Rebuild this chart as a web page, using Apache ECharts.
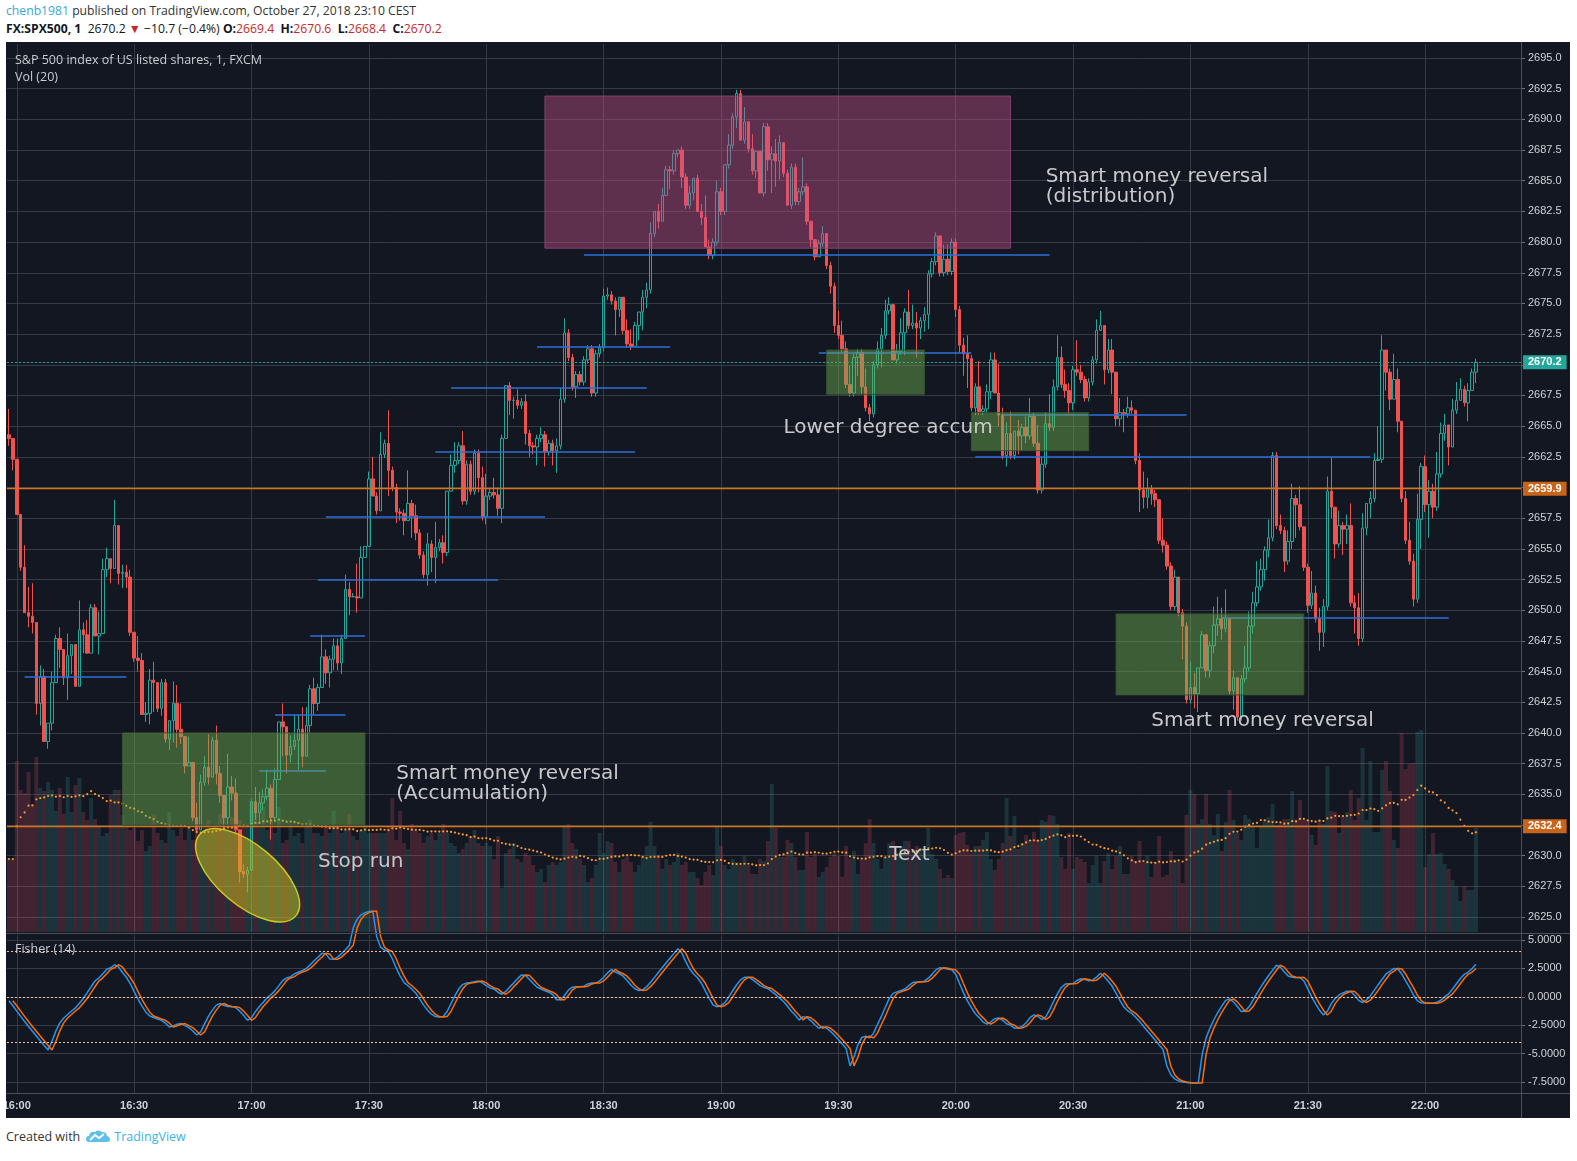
<!DOCTYPE html>
<html>
<head>
<meta charset="utf-8">
<script src="https://cdn.jsdelivr.net/npm/echarts@6/dist/echarts.min.js"></script>
<style>
html,body{margin:0;padding:0;background:#fff;width:1577px;height:1161px;overflow:hidden;font-family:"Open Sans","Noto Sans",sans-serif;}
#h1{position:absolute;left:6px;top:2px;font-size:12.2px;line-height:18px;color:#333;white-space:nowrap;}
#h2{position:absolute;left:6px;top:20px;font-size:12.2px;line-height:18px;color:#131722;white-space:nowrap;}
#h2 .r{color:#c62828;}
#chart{position:absolute;left:6px;top:42px;width:1564px;height:1076px;background:#131722;}
#ft{position:absolute;left:6px;top:1128px;font-size:12.5px;line-height:18px;color:#333;white-space:nowrap;}
#ft svg{vertical-align:-2px;margin:0 4px 0 6px;}
</style>
</head>
<body>
<div id="h1"><span style="color:#3aa6dc">chenb1981</span> published on TradingView.com, October 27, 2018 23:10 CEST</div>
<div id="h2"><b>FX:SPX500, 1</b>&nbsp; 2670.2 <span class="r">&#9660;</span> &minus;10.7 (&minus;0.4%) <b>O:</b><span class="r">2669.4</span> &nbsp;<b>H:</b><span class="r">2670.6</span> &nbsp;<b>L:</b><span class="r">2668.4</span> &nbsp;<b>C:</b><span class="r">2670.2</span></div>
<div id="chart"></div>
<div id="ft">Created with<svg width="24" height="14" viewBox="0 0 24 14"><path d="M3 13 Q0 13 0 10 Q0 7 3 7 Q4 2 9 3 Q12 0 16 3 Q21 3 21 7 Q24 8 24 10.5 Q24 13 21 13 Z" fill="#5ec0ea"/><polyline points="4,11 9,6 13,9 18,5" stroke="#fff" stroke-width="1.8" fill="none"/></svg><span style="color:#3bb3e4">TradingView</span></div>
<script>
// ---------------- DATA ----------------
const START_TIME = '15:58';           // first candle
const N_CATS = 387;                   // minutes shown on the time axis (incl. empty right margin)
const timeTicks = ['16:00','16:30','17:00','17:30','18:00','18:30','19:00','19:30','20:00','20:30','21:00','21:30','22:00'];
const firstOpen = 2664.3;
const WICK_UNIT = 0.3;                // wick lengths below are in units of 0.3 points

const closes = [
2664.0,2662.3,2657.8,2653.5,2649.8,2649.5,2649.0,2642.4,2644.6,2639.3,
2640.8,2644.1,2647.7,2646.8,2644.5,2646.3,2647.2,2643.8,2648.4,2648.0,
2646.5,2650.2,2647.9,2648.1,2653.3,2654.2,2653.4,2656.9,2653.0,2653.1,
2652.7,2648.2,2646.1,2645.9,2641.5,2641.6,2644.3,2644.1,2642.0,2644.1,
2639.5,2641.0,2642.4,2640.3,2639.7,
2637.3,2637.6,2633.1,2632.1,2636.0,2637.2,2636.4,2639.4,2636.7,2634.9,
2633.1,2635.6,2635.1,2632.1,2628.7,2628.5,2628.8,2634.4,2633.5,2634.3,
2634.8,2635.5,2633.1,2636.2,
2640.9,2640.5,2638.2,2638.9,2639.4,2640.3,2638.1,2640.6,2643.6,2642.4,
2643.7,2646.2,2644.9,2646.0,2647.1,2645.7,2647.7,2651.7,2651.1,2651.1,
2651.0,2654.3,2655.2,2660.7,2659.3,2658.1,2662.7,2663.6,2661.4,2660.0,
2658.0,2657.9,2657.3,2658.7,2657.7,2656.3,2654.5,2652.9,2655.4,2654.3,
2655.1,2655.5,2654.7,2659.7,2661.8,2662.2,2663.4,2658.9,2661.9,2659.7,
2662.8,2660.8,2657.6,2659.3,2659.6,2659.4,2658.3,2664.0,2668.3,2667.1,
2667.1,2666.7,2667.0,2664.4,2663.4,2663.3,2664.0,2664.3,2662.9,2663.6,
2663.0,2663.4,2667.2,2672.6,2670.6,2668.2,2669.2,2668.6,2670.4,2671.3,
2667.7,2670.9,2671.4,2675.6,2675.7,2675.2,
2674.5,2675.5,2672.8,2671.7,2671.5,2673.2,2674.3,2675.5,2676.1,2680.7,
2682.5,2681.7,2683.8,2685.9,2685.8,2687.2,2687.5,2685.3,2683.0,2684.0,
2685.2,2682.5,2682.0,2679.6,2678.9,2680.0,2684.1,2682.5,2686.3,2687.9,
2690.2,2692.1,2688.3,2689.8,2687.6,2685.8,2687.4,2684.0,2689.4,2686.7,
2687.2,2686.6,2688.1,2685.6,2683.0,2686.1,2683.3,2684.1,2684.5,2681.7,
2680.2,2678.8,2679.9,2680.7,2678.1,2676.4,2673.2,2672.4,2671.3,2668.4,
2667.7,2670.6,2671.0,2668.2,2666.5,2666.0,2670.0,2671.3,2672.4,2674.4,
2674.9,2670.4,2671.1,2672.6,2674.3,2673.2,2673.4,2673.0,2673.6,2674.1,
2677.4,2678.4,2680.5,2677.5,2678.6,2677.6,2680.0,2674.5,2671.6,2670.9,
2670.5,
2666.5,2668.2,2666.2,2666.4,2667.8,2670.4,2667.7,2665.9,2662.6,2664.4,
2662.6,2664.6,2664.2,2664.9,2664.2,2665.8,2663.6,2659.8,2661.9,2665.2,
2664.9,2668.2,2670.6,2668.4,2667.9,2666.9,2669.6,2669.4,2668.8,2667.3,
2668.6,2670.4,2672.8,2673.2,2669.6,2671.2,2669.4,2665.6,2666.1,2666.0,
2666.5,2666.3,2662.2,2659.8,2659.2,2659.9,2659.5,2659.0,2655.7,2655.3,
2653.6,
2650.3,2652.7,2649.8,2648.7,2642.7,2643.7,2643.2,2645.3,2648.0,2645.1,
2647.1,2648.8,2649.3,2648.5,2649.3,2643.4,2644.5,2641.3,2644.4,2645.3,
2648.7,2650.6,2651.9,2653.3,2654.9,2655.9,2662.6,2656.9,2656.5,2654.0,
2655.6,2659.1,2658.6,2656.8,2653.5,2650.4,2651.4,2649.3,2648.2,2650.3,
2659.7,2658.4,2655.4,2656.9,2656.6,2656.9,2650.6,2650.2,2647.7,2656.7,
2658.7,2659.1,2662.2,2662.3,2671.2,2669.4,2667.2,2668.8,2665.4,2659.1,
2655.7,2654.0,2650.9,2657.4,2661.7,2658.6,2659.7,2658.4,2661.1,2664.4,
2665.1,2663.3,2666.3,2667.1,2668.0,2666.9,2667.9,2669.4,2670.2
];

const upperWicks = [
7,0,0,0,6,7,9,0,3,2, 0,3,1,3,0,6,0,0,8,2, 4,1,1,6,3,3,0,7,0,2, 2,2,0,6,2,3,3,5,0,1, 1,0,6,5,7,
0,7,0,4,2,3,9,1,4,2, 0,9,3,4,0,2,1,0,4,3, 2,5,1,3,
0,5,0,3,7,4,6,5,1,3, 1,6,2,1,2,2,1,4,2,1, 9,3,0,2,6,1,6,1,9,1, 1,1,1,9,1,3,1,1,3,1,
7,1,2,0,3,5,1,4,1,1, 1,1,3,6,1,4,2,1,0,1, 1,3,1,2,1,1,1,2,1,1, 1,2,3,4,1,1,1,1,1,1, 1,1,1,2,2,1,
1,0,0,3,4,1,0,2,2,3, 0,2,2,1,1,1,0,1,1,2, 0,1,2,6,2,1,3,1,0,3, 1,1,1,4,0,4,0,0,1,1,
2,4,2,0,1,1,1,1,8,1, 0,0,1,2,0,1,1,4,4,2, 5,1,1,1,5,1,1,2,2,3, 2,0,2,4,1,6,5,3,1,2, 1,1,1,0,4,4,1,1,1,2, 5,
1,1,7,1,2,2,2,8,2,3, 6,0,3,1,3,5,1,5,2,3, 8,2,6,3,4,2,1,8,2,1, 1,1,3,4,0,3,3,0,4,1, 3,2,0,2,5,3,1,1,0,6, 1,
1,2,0,1,1,7,4,0,1,0, 1,5,6,3,8,0,2,0,1,6, 4,3,7,3,1,5,1,1,3,1, 3,4,1,5,0,1,6,2,3,2,
4,9,0,4,1,3,6,2,4,4, 0,2,2,9,4,0,1,7,3,0, 2,5,2,7,1,3,3,2,6,3, 3,0,3,5,3,1,2,1,1
];

const lowerWicks = [
2,3,0,1,0,3,3,3,6,0, 2,2,0,5,2,6,5,0,0,5, 0,0,0,5,0,2,4,0,3,4, 3,1,1,3,0,2,3,8,1,2, 1,3,6,5,2,
2,0,1,1,0,1,2,0,3,2, 3,2,2,1,3,1,5,0,2,3, 2,1,6,1,
0,8,5,2,1,8,3,0,2,3, 2,0,3,4,3,2,3,0,5,0, 4,0,0,0,0,1,0,1,7,1, 3,2,4,0,6,2,1,1,3,4,
7,1,3,1,0,2,1,1,1,1, 1,4,1,2,1,1,2,4,0,4, 5,1,1,3,3,2,5,1,4,1, 4,6,1,1,1,1,3,1,1,1, 1,1,1,1,1,1,
7,2,1,1,1,0,4,5,3,1, 1,2,0,0,5,1,1,3,1,1, 2,0,2,0,1,1,1,1,1,1, 1,3,0,1,1,1,2,0,1,3,
9,7,5,1,0,1,1,1,1,1, 2,1,0,1,1,2,2,1,1,1, 1,1,5,2,1,2,1,1,5,1, 1,0,1,1,6,1,1,8,3,3, 4,1,1,1,1,1,1,2,2,6, 8,
1,2,1,1,1,2,0,3,1,3, 1,1,5,4,2,1,1,1,1,1, 1,1,1,1,2,3,2,1,1,1, 1,1,1,0,4,1,6,2,2,5, 1,1,1,6,3,3,3,2,1,2, 1,
1,1,1,9,1,1,4,5,0,2, 2,2,3,3,1,1,5,1,1,1, 1,2,1,1,3,2,1,1,1,3, 1,2,9,1,1,2,1,1,5,4,
1,3,4,1,7,4,1,7,2,1, 2,4,1,0,1,5,3,0,3,1, 1,1,2,1,8,2,9,3,1,1, 2,5,0,1,0,1,5,0,3
];

const volumes = [
73,73,171,142,139,160,128,175,144,141, 150,142,121,144,118,155,120,147,154,120,
112,134,113,105,96,99,137,142,142,117, 105,102,104,91,102,81,86,118,99,92,
89,120,102,96,104,92,105,92,105,105, 108,112,105,108,118,115,105,115,115,112,
105,105,134,121,105,125,102,112,99,125, 89,92,108,96,99,89,105,112,99,99,
96,105,99,121,105,99,102,118,96,92, 102,105,99,99,99,99,99,105,134,92,
121,89,83,108,102,99,89,96,99,92, 99,108,99,89,86,79,83,89,96,102,
89,86,89,86,73,96,44,79,83,89, 73,70,79,76,67,60,63,50,67,70,
67,70,105,108,89,83,73,67,50,54, 67,99,79,91,89,70,60,73,76,70,
60,67,76,86,110,86,76,63,73,67, 70,79,67,70,60,60,54,47,60,67,
57,105,86,67,63,73,70,67,76,
67,58,58,73,71,91,148,104,75, 75,92,89,75,62,62,100,75,79,55,
60,65,75,79,76,55,86,73,81,58, 73,89,113,89,73,63,75,89,91,79,
86,91,91,79,86,84,79,104,78,73, 63,54,57,54,97,99,100,87,79,86,
86,92,100,73,62,73,89,134,96,116, 83,89,97,92,100,92,112,110,117,
116,108,75,63,99,63,75,73,70,49, 67,76,49,71,79,63,76,86,58,58,
76,71,91,70,76,55,70,96,55,57, 81,73,70,49,117,142,138,108,113,138,
108,97,118,81,110,142,112,99,92, 117,113,105,84,105,113,115,128,107,108,
113,113,141,113,132,112,112,97,87,112, 108,166,121,120,99,115,120,142,112,134,
184,112,171,100,100,162,171,141,92,84, 199,163,168,169,200,202,65,78,99,78,
79,68,63,52,46,31,46,42,42,104
];

// user drawings: [fromCandle, toCandle, price]
const levelLines = [
[4,30,2644.6],[64,81,2636.9],[68,86,2641.5],[77,91,2647.9],[79,125,2652.5],[81,137,2657.6],
[109,160,2662.9],[113,163,2668.1],[135,169,2671.5],[147,266,2679.0],[207,246,2671.0],
[254,301,2665.9],[247,348,2662.5],[310,368,2649.4]
];
// [fromCandle, toCandle, topPrice, bottomPrice, kind]
const boxes = [
[137,256,2691.9,2679.5,'pink'],[29,91,2640.0,2632.5,'green'],[209,234,2671.2,2667.6,'green'],
[246,276,2666.1,2663.0,'green'],[283,331,2649.7,2643.1,'green']
];
const priceLines = [[2670.2,'last'],[2659.9,'h'],[2632.4,'h']];
// [candle, price at top of text block, text]
const notes = [
[265,2686.1,'Smart money reversal\n(distribution)'],
[198,2665.7,'Lower degree accum'],
[292,2641.8,'Smart money reversal'],
[99,2637.5,'Smart money reversal\n(Accumulation)'],
[79,2630.3,'Stop run'],
[225,2630.9,'Text']
];
const stopRunEllipse = {candle:61, price:2628.4};
const fisherLevels = [4,0,-4];

// ---------------- BUILD ----------------
const n = closes.length;
if (upperWicks.length!==n || lowerWicks.length!==n || volumes.length!==n) console.error('length mismatch', n, upperWicks.length, lowerWicks.length, volumes.length);
const [sh, sm] = START_TIME.split(':').map(Number);
const cats = [];
for (let i=0;i<N_CATS;i++){const m=sh*60+sm+i;cats.push(String(Math.floor(m/60)).padStart(2,'0')+':'+String(m%60).padStart(2,'0'));}

const opens=[], highs=[], lows=[];
for (let i=0;i<n;i++){
  const o = i===0?firstOpen:closes[i-1], c=closes[i];
  opens.push(o);
  highs.push(+(Math.max(o,c)+upperWicks[i]*WICK_UNIT).toFixed(2));
  lows.push(+(Math.min(o,c)-lowerWicks[i]*WICK_UNIT).toFixed(2));
}
const candleData = closes.map((c,i)=>[opens[i],c,lows[i],highs[i]]);

// Fisher transform (14) on hl2
const hl2 = highs.map((h,i)=>(h+lows[i])/2);
const fisher=[], trigger=[];
let val=0, fish=0;
for (let i=0;i<n;i++){
  const s=Math.max(0,i-13); let hi=-Infinity, lo=Infinity;
  for (let k=s;k<=i;k++){hi=Math.max(hi,hl2[k]);lo=Math.min(lo,hl2[k]);}
  let v = 0.66*((hl2[i]-lo)/Math.max(hi-lo,0.001)-0.5)+0.67*val;
  v = v>0.99?0.999:(v<-0.99?-0.999:v);
  val=v;
  trigger.push(i===0?null:+fish.toFixed(4));
  fish = 0.5*Math.log((1+v)/(1-v))+0.5*fish;
  fisher.push(+fish.toFixed(4));
}
// Volume MA(20)
const volMA = volumes.map((v,i)=>{const s=Math.max(0,i-19);let t=0;for(let k=s;k<=i;k++)t+=volumes[k];return +(t/(i-s+1)).toFixed(2);});

const GRID='#363a45', AX='#cfd2d8', FONT='"Liberation Sans", Arial, sans-serif';
const tickFn=(i,v)=>timeTicks.indexOf(v)>=0;
function xa(g, extra){
  return Object.assign({type:'category',gridIndex:g,data:cats,boundaryGap:true,
    axisLine:{show:false},axisTick:{show:false},axisLabel:{show:false},splitLine:{show:false}}, extra||{});
}
const vSplit={show:true,interval:tickFn,alignWithLabel:true,lineStyle:{color:GRID,width:1}};
const gridBase={left:1,right:49,containLabel:false,outerBoundsMode:'none'};

const option={
  backgroundColor:'transparent',
  animation:false,
  grid:[
    Object.assign({top:16,height:859},gridBase),
    Object.assign({top:2,height:888},gridBase),
    Object.assign({top:898,height:142},gridBase),
    Object.assign({top:893,height:158},gridBase)
  ],
  xAxis:[
    xa(0),
    xa(1,{splitLine:vSplit}),
    xa(2),
    xa(3,{splitLine:vSplit,axisLine:{show:true,lineStyle:{color:'#4c4f5a'}},
      axisLabel:{show:true,interval:tickFn,color:AX,fontSize:11,fontWeight:'bold',fontFamily:FONT,margin:7}})
  ],
  yAxis:[
    {type:'value',gridIndex:0,position:'right',min:2625,max:2695,interval:2.5,scale:true,
     axisLine:{show:false},axisTick:{show:true,length:4,lineStyle:{color:'#6b6e78'}},
     axisLabel:{color:AX,fontSize:11,fontFamily:FONT,margin:7,formatter:v=>v.toFixed(1)},
     splitLine:{show:true,lineStyle:{color:GRID}}},
    {type:'value',gridIndex:1,min:0,max:888,show:false},
    {type:'value',gridIndex:2,position:'right',min:-7.5,max:5,interval:2.5,
     axisLine:{show:false},axisTick:{show:true,length:4,lineStyle:{color:'#6b6e78'}},
     axisLabel:{color:AX,fontSize:11,fontFamily:FONT,margin:7,formatter:v=>v.toFixed(4)},
     splitLine:{show:true,lineStyle:{color:GRID}}},
    {type:'value',gridIndex:3,show:false}
  ],
  series:[
    {type:'bar',name:'Volume',xAxisIndex:1,yAxisIndex:1,z:1,barCategoryGap:'0%',
     data:volumes.map((v,i)=>({value:v,itemStyle:{color: closes[i]>=opens[i]?'rgba(60,170,160,0.2)':'rgba(230,80,110,0.22)'}})),
     silent:true},
    {type:'line',name:'VolMA',xAxisIndex:1,yAxisIndex:1,z:3,data:volMA,symbol:'circle',symbolSize:2.2,
     showSymbol:true,lineStyle:{opacity:0},itemStyle:{color:'#ff9a2e'},silent:true},
    {type:'candlestick',name:'SPX500',xAxisIndex:0,yAxisIndex:0,z:2,barWidth:3,data:candleData,
     itemStyle:{color:'rgba(0,0,0,0)',color0:'#ef5350',borderColor:'#26a69a',borderColor0:'#ef5350',borderColorDoji:'#26a69a',borderWidth:1},
     silent:true},
    {type:'line',name:'levels',xAxisIndex:0,yAxisIndex:0,data:[],silent:true,
     markLine:{silent:true,symbol:['none','none'],z:5,animation:false,
       data: levelLines.map(l=>[{coord:[cats[l[0]],l[2]],lineStyle:{color:'#2e6fdc',width:1.5,type:'solid'},label:{show:false}},{coord:[cats[l[1]],l[2]]}])
         .concat(priceLines.map(p=>({yAxis:p[0],
           lineStyle: p[1]==='last'?{color:'#26a69a',width:1,type:[2,2]}:{color:'#d8731a',width:1.3,type:'solid'},
           label:{show:true,position:'end',distance:2,formatter:p[0].toFixed(1),color:'#fff',fontSize:11,fontWeight:'bold',fontFamily:FONT,
             backgroundColor:p[1]==='last'?'#26a69a':'#c8651b',padding:[2,5,1,5]}})))
     }},
    {type:'line',name:'zones',xAxisIndex:0,yAxisIndex:0,data:[],silent:true,
     markArea:{silent:true,z:10,
       data: boxes.map(b=>[{xAxis:cats[b[0]],yAxis:b[2],itemStyle: b[4]==='pink'
           ?{color:'rgba(200,80,140,0.42)',borderColor:'rgba(140,70,115,0.9)',borderWidth:1}
           :{color:'rgba(110,180,80,0.45)',borderColor:'rgba(55,85,50,0.95)',borderWidth:1}},
         {xAxis:cats[b[1]],yAxis:b[3]}])
     }},
    {type:'line',name:'Fisher',xAxisIndex:2,yAxisIndex:2,z:3,data:fisher,symbol:'none',
     lineStyle:{color:'#2196f3',width:1.5},silent:true,clip:false,
     markLine:{silent:true,symbol:['none','none'],label:{show:false},
       lineStyle:{color:'#f7c2a3',type:[2,2],width:1},data:fisherLevels.map(v=>({yAxis:v}))}},
    {type:'line',name:'Trigger',xAxisIndex:2,yAxisIndex:2,z:4,data:trigger,symbol:'none',
     lineStyle:{color:'#ff6d00',width:1.5},silent:true,clip:false}
  ]
};

const chart=echarts.init(document.getElementById('chart'),null,{renderer:'canvas'});
chart.setOption(option);

// annotations placed through the chart's own scales
const px=(c,p)=>chart.convertToPixel({gridIndex:0},[cats[c],p]);
const g=[];
g.push({type:'line',z:20,silent:true,shape:{x1:1515.5,y1:0,x2:1515.5,y2:1076},style:{stroke:'#4c4f5a',lineWidth:1}});
g.push({type:'line',z:20,silent:true,shape:{x1:0,y1:891.5,x2:1564,y2:891.5},style:{stroke:'#4c4f5a',lineWidth:1}});
g.push({type:'line',z:20,silent:true,shape:{x1:1515,y1:1051.5,x2:1564,y2:1051.5},style:{stroke:'#4c4f5a',lineWidth:1}});
const ec=px(stopRunEllipse.candle,stopRunEllipse.price);
g.push({type:'ellipse',z:11,silent:true,x:ec[0],y:ec[1],rotation:-0.70,shape:{cx:0,cy:0,rx:63,ry:30},
  style:{fill:'rgba(200,190,30,0.52)',stroke:'rgba(215,205,35,0.95)',lineWidth:1.5}});
notes.forEach(nt=>{const p=px(nt[0],nt[1]);
  g.push({type:'text',z:12,silent:true,x:p[0],y:p[1],style:{text:nt[2],fill:'#c8c9cc',font:'20px "DejaVu Sans"',align:'left',verticalAlign:'top',lineHeight:20}});
});
g.push({type:'text',z:12,silent:true,x:9,y:12,style:{text:'S&P 500 index of US listed shares, 1, FXCM',fill:'#c9ccd3',font:'12.5px "Open Sans"',verticalAlign:'top'}});
g.push({type:'text',z:12,silent:true,x:9,y:29,style:{text:'Vol (20)',fill:'#c9ccd3',font:'12.5px "Open Sans"',verticalAlign:'top'}});
g.push({type:'text',z:12,silent:true,x:9,y:901,style:{text:'Fisher (14)',fill:'#c9ccd3',font:'12.5px "Open Sans"',verticalAlign:'top'}});
chart.setOption({graphic:g});
</script>
</body>
</html>
